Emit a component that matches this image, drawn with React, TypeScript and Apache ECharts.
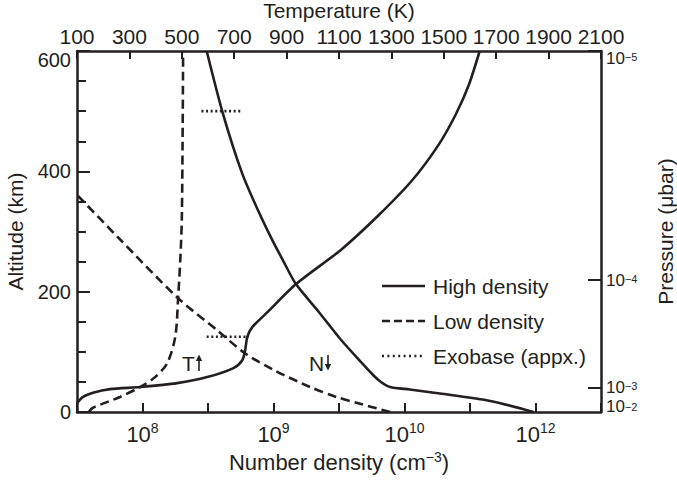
import React, { useEffect, useRef } from 'react';
import * as echarts from 'echarts';

const FONT = '"Liberation Sans", Arial, Helvetica, sans-serif';
const INK = '#231f20';

// ---- Axes ----
// Top axis: temperature (K)
const tempMin = 100;
const tempMax = 2100;
const tempStep = 200;

// Bottom axis: number density (cm^-3) — decade labels at axis tick positions
const densityLabelPos = [1, 3, 5, 7];
const densityLabelExp = ['8', '9', '10', '12'];

// Right axis: pressure (µbar) tick labels and the altitudes where they sit
const pressureExp = ['−2', '−3', '−4', '−5'];
const pressureAlt = [0, 40, 219, 600];

// ---- Curves ----
// High density temperature profile (K vs km)
const tempHigh = [100, 123, 161, 226, 341, 482, 597, 697, 731, 742, 750, 769, 827, 937, 1106, 1251, 1381, 1480, 1545, 1595, 1637];
const altTempHigh = [15, 25, 32, 38, 41.5, 48, 58, 73, 86, 103, 125, 141, 166, 213, 269, 327, 386, 444, 494, 543, 600];

// Low density temperature profile
const tempLow = [145, 161, 264, 341, 398, 444, 475, 486, 495, 500, 503, 505];
const altTempLow = [0, 7, 25, 41.5, 58, 81, 125, 190, 260, 320, 450, 600];

// High density number density profile (log10 cm^-3 vs km)
const logNHigh = [11.97, 11.31, 10.54, 10.08, 9.89, 9.82, 9.76, 9.66, 9.51, 9.34, 9.17, 9.07, 8.99, 8.88, 8.76, 8.61, 8.49];
const altNHigh = [0, 18.3, 30.7, 37.4, 41.6, 49.9, 61.5, 84.8, 121.3, 167.9, 213, 253, 286, 336, 397, 499, 600];

// Low density number density profile
const logNLow = [9.89, 9.64, 9.48, 9.28, 9.0, 8.78, 8.57, 8.27, 7.81, 7.5];
const altNLow = [0, 15, 25, 41.5, 70, 98, 136, 189.5, 291, 361];

// Exobase (approx.) markers: altitude and log10 density extent
const exobaseAlt = [500, 125];
const exobaseFrom = [8.45, 8.49];
const exobaseTo = [8.76, 8.81];

// The printed density axis: 10^8 -> tick 1, 10^9 -> tick 3, 10^10 -> tick 5, 10^12 -> tick 7
function densityPos(logN: number): number {
  return logN <= 10 ? 1 + 2 * (logN - 8) : 5 + (logN - 10);
}

const supRich = (base: number, sup: number, lh: number) => ({
  b: { fontSize: base, fontFamily: FONT, color: INK, lineHeight: lh },
  s: { fontSize: sup, fontFamily: FONT, color: INK, verticalAlign: 'top', lineHeight: sup },
});

const pressureLabel = (v: number) => {
  const k = pressureAlt.indexOf(v);
  return k >= 0 ? `{b|10}{s|${pressureExp[k]}}` : '';
};

export default function App() {
  const ref = useRef<HTMLDivElement>(null);
  useEffect(() => {
    if (!ref.current) return;
    const chart = echarts.init(ref.current, null, { renderer: 'svg' });
    const solid = { color: INK, width: 2.6, type: 'solid' as const };
    const dashed = { color: INK, width: 2.6, type: [9, 5] };
    const dotted = { color: INK, width: 2.6, type: [2, 2.6] };
    const axisLine = { show: true, onZero: false, lineStyle: { color: INK, width: 2.5 } };

    const series: any[] = [
      {
        name: 'High density T', type: 'line', xAxisIndex: 1, yAxisIndex: 0,
        data: tempHigh.map((t, i) => [t, altTempHigh[i]]),
        symbol: 'none', smooth: 0.25, lineStyle: solid, silent: true,
      },
      {
        name: 'Low density T', type: 'line', xAxisIndex: 1, yAxisIndex: 0,
        data: tempLow.map((t, i) => [t, altTempLow[i]]),
        symbol: 'none', smooth: 0.3, lineStyle: dashed, silent: true,
      },
      {
        name: 'High density N', type: 'line', xAxisIndex: 0, yAxisIndex: 0,
        data: logNHigh.map((n, i) => [densityPos(n), altNHigh[i]]),
        symbol: 'none', smooth: 0.25, lineStyle: solid, silent: true,
      },
      {
        name: 'Low density N', type: 'line', xAxisIndex: 0, yAxisIndex: 0,
        data: logNLow.map((n, i) => [densityPos(n), altNLow[i]]),
        symbol: 'none', smooth: 0.3, lineStyle: dashed, silent: true,
      },
    ];
    exobaseAlt.forEach((a, i) => {
      series.push({
        name: 'Exobase ' + i, type: 'line', xAxisIndex: 0, yAxisIndex: 0,
        data: [[densityPos(exobaseFrom[i]), a], [densityPos(exobaseTo[i]), a]],
        symbol: 'none', lineStyle: dotted, silent: true,
      });
    });

    const legendRows = [
      { label: 'High density', dash: null as any },
      { label: 'Low density', dash: [8, 4] },
      { label: 'Exobase (appx.)', dash: [2, 3.4] },
    ];
    const graphic: any[] = [];
    legendRows.forEach((r, i) => {
      const y = 286 + i * 35;
      graphic.push({
        type: 'line', shape: { x1: 382, y1: y, x2: 425, y2: y },
        style: { stroke: INK, lineWidth: 2.5, lineDash: r.dash || undefined },
      });
      graphic.push({
        type: 'text', x: 433, y,
        style: { text: r.label, fontSize: 21, fontFamily: FONT, fill: INK, verticalAlign: 'middle', textVerticalAlign: 'middle' },
      });
    });
    // T and N annotations with arrows
    graphic.push({ type: 'text', x: 182, y: 363, style: { text: 'T', fontSize: 21, fontFamily: FONT, fill: INK, verticalAlign: 'middle', textVerticalAlign: 'middle' } });
    graphic.push({ type: 'line', shape: { x1: 199, y1: 371, x2: 199, y2: 359 }, style: { stroke: INK, lineWidth: 1.6 } });
    graphic.push({ type: 'polygon', shape: { points: [[195.8, 361], [202.2, 361], [199, 354.5]] }, style: { fill: INK } });
    graphic.push({ type: 'text', x: 309, y: 363, style: { text: 'N', fontSize: 21, fontFamily: FONT, fill: INK, verticalAlign: 'middle', textVerticalAlign: 'middle' } });
    graphic.push({ type: 'line', shape: { x1: 328, y1: 355, x2: 328, y2: 366 }, style: { stroke: INK, lineWidth: 1.6 } });
    graphic.push({ type: 'polygon', shape: { points: [[324.8, 364], [331.2, 364], [328, 370.5]] }, style: { fill: INK } });

    const upperPressure = pressureAlt.filter((a) => a > 0);
    const lowestPressure = pressureAlt.filter((a) => a === 0);

    chart.setOption({
      animation: false,
      backgroundColor: '#ffffff',
      textStyle: { fontFamily: FONT, color: INK },
      grid: { left: 77, right: 76, top: 51, bottom: 70, containLabel: false, outerBoundsMode: 'none' },
      xAxis: [
        {
          type: 'value', position: 'bottom', min: 0, max: 8, interval: 1,
          axisLine,
          axisTick: { show: true, inside: true, length: 9, lineStyle: { color: INK, width: 2 } },
          axisLabel: {
            margin: 9,
            hideOverlap: false,
            formatter: (v: number) => {
              const k = densityLabelPos.indexOf(Math.round(v));
              return k >= 0 && Math.abs(v - Math.round(v)) < 1e-6 ? `{b|10}{s|${densityLabelExp[k]}}` : '';
            },
            rich: supRich(22, 14, 26),
          },
          splitLine: { show: false },
          name: '{t|Number density (cm}{s|−3}{t|)}',
          nameLocation: 'middle', nameGap: 37,
          nameTextStyle: {
            rich: {
              t: { fontSize: 22, fontFamily: FONT, color: INK, lineHeight: 26 },
              s: { fontSize: 14, fontFamily: FONT, color: INK, verticalAlign: 'top', lineHeight: 16 },
            },
          },
        },
        {
          type: 'value', position: 'top', min: tempMin, max: tempMax, interval: tempStep,
          axisLine,
          axisTick: { show: true, inside: true, length: 8, lineStyle: { color: INK, width: 2 } },
          axisLabel: {
            fontSize: 21, fontFamily: FONT, color: INK, margin: 4,
            showMinLabel: true, showMaxLabel: true, hideOverlap: false,
            formatter: (v: number) => String(v),
          },
          splitLine: { show: false },
          name: 'Temperature (K)', nameLocation: 'middle', nameGap: 27,
          nameTextStyle: { fontSize: 21, fontFamily: FONT, color: INK },
        },
      ],
      yAxis: [
        {
          type: 'value', position: 'left', min: 0, max: 600, interval: 200,
          axisLine,
          axisTick: { show: true, inside: true, length: 13, lineStyle: { color: INK, width: 2 } },
          minorTick: { show: true, splitNumber: 4, length: 9, lineStyle: { color: INK, width: 2 } },
          axisLabel: {
            fontSize: 20, fontFamily: FONT, color: INK, margin: 6, lineHeight: 17,
            showMinLabel: true, showMaxLabel: true, hideOverlap: false,
            verticalAlignMaxLabel: 'top',
          },
          splitLine: { show: false },
          minorSplitLine: { show: false },
          name: 'Altitude (km)', nameLocation: 'middle', nameGap: 51, nameRotate: 90,
          nameTextStyle: { fontSize: 21, fontFamily: FONT, color: INK },
        },
        {
          type: 'value', position: 'right', offset: 0, min: 0, max: 600,
          axisLine,
          axisTick: { show: true, inside: true, length: 13, customValues: upperPressure, lineStyle: { color: INK, width: 2 } },
          axisLabel: {
            customValues: upperPressure,
            margin: 5,
            showMinLabel: true, showMaxLabel: true, hideOverlap: false,
            verticalAlignMaxLabel: 'top',
            formatter: pressureLabel,
            rich: supRich(17, 11, 14),
          },
          splitLine: { show: false },
          name: 'Pressure (μbar)', nameLocation: 'middle', nameGap: 54, nameRotate: 90,
          nameTextStyle: { fontSize: 21, fontFamily: FONT, color: INK },
        },
        {
          type: 'value', position: 'right', offset: 0, min: 0, max: 600,
          axisLine: { show: false },
          axisTick: { show: false },
          axisLabel: {
            customValues: lowestPressure,
            margin: 5,
            showMinLabel: true, showMaxLabel: true, hideOverlap: false,
            verticalAlignMinLabel: 'bottom',
            formatter: pressureLabel,
            rich: supRich(17, 11, 10),
          },
          splitLine: { show: false },
        },
      ],
      series,
      graphic,
    });
    return () => chart.dispose();
  }, []);
  return <div ref={ref} style={{ position: 'absolute', left: 0, top: 0, width: 677, height: 482, background: '#fff' }} />;
}
